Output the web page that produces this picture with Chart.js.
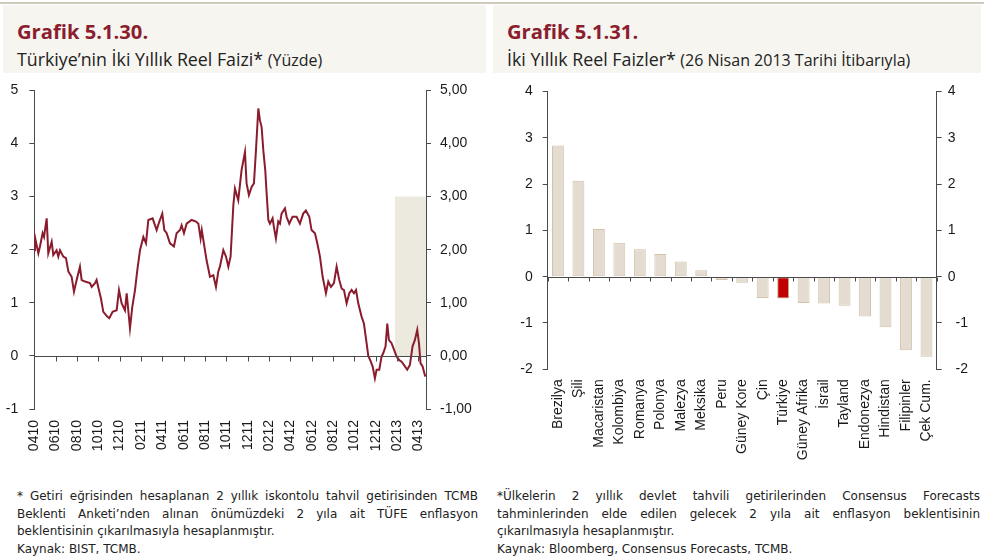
<!DOCTYPE html>
<html lang="tr">
<head>
<meta charset="utf-8">
<title>Grafik 5.1.30 - 5.1.31</title>
<script src="https://cdn.jsdelivr.net/npm/chart.js@4.4.1/dist/chart.umd.min.js"></script>
<style>
    body { margin: 0; width: 984px; height: 559px; background: #fff; position: relative; overflow: hidden; font-family: 'Open Sans', sans-serif; color: #222; }
    .rule { position: absolute; left: 0; top: 2px; width: 984px; height: 2px; background: #cfcabd; }
    .head { position: absolute; top: 5px; height: 68px; background: #f6f5f0; }
    .head h2 { margin: 0; position: absolute; left: 14px; top: 16px; font: bold 20.2px/21px 'Open Sans', sans-serif; color: #8c1d2e; }
    .head p { margin: 0; position: absolute; left: 14px; top: 45px; font-size: 17.8px; line-height: 18px; white-space: nowrap; }
    .head p small { font-size: 16px; }
    .box { position: absolute; }
    .note { position: absolute; font: 12px 'DejaVu Sans', sans-serif; line-height: 17.5px; color: #222; }
    .note div { white-space: nowrap; }
    .note .j { text-align: justify; text-align-last: justify; white-space: normal; }
</style>
</head>
<body>
<div class="rule"></div>

<div class="head" style="left:3px;width:483px">
    <h2>Grafik 5.1.30.</h2>
    <p>Türkiye’nin İki Yıllık Reel Faizi* <small>(Yüzde)</small></p>
</div>
<div class="head" style="left:493px;width:488px">
    <h2>Grafik 5.1.31.</h2>
    <p>İki Yıllık Reel Faizler* <small>(26 Nisan 2013 Tarihi İtibarıyla)</small></p>
</div>

<div class="box" style="left:0;top:71px"><canvas id="real-chart" width="490" height="389"></canvas></div>
<div class="box" style="left:495px;top:73px"><canvas id="country-chart" width="489" height="397"></canvas></div>

<div class="note" style="left:17px;top:488px;width:461px">
    <div class="j">* Getiri eğrisinden hesaplanan 2 yıllık iskontolu tahvil getirisinden TCMB</div>
    <div class="j">Beklenti Anketi’nden alınan önümüzdeki 2 yıla ait TÜFE enflasyon</div>
    <div>beklentisinin çıkarılmasıyla hesaplanmıştır.</div>
    <div>Kaynak: BIST, TCMB.</div>
</div>
<div class="note" style="left:497px;top:488px;width:483px">
    <div class="j">*Ülkelerin 2 yıllık devlet tahvili getirilerinden Consensus Forecasts</div>
    <div class="j">tahminlerinden elde edilen gelecek 2 yıla ait enflasyon beklentisinin</div>
    <div>çıkarılmasıyla hesaplanmıştır.</div>
    <div>Kaynak: Bloomberg, Consensus Forecasts, TCMB.</div>
</div>

<script>
// === DATOS: GRÁFICO 5.1.30 ===
const tickLabels = ['0410', '0610', '0810', '1010', '1210', '0211', '0411', '0611', '0811', '1011',
    '1211', '0212', '0412', '0612', '0812', '1012', '1212', '0213', '0413'];

// meses desde el 1 de abril de 2010
const months = [0, 0.06, 0.38, 0.53, 0.78, 0.91, 1.16, 1.31, 1.63, 1.78, 2.09, 2.25, 2.41, 2.72, 2.97,
    3.19, 3.5, 3.72, 3.97, 4.28, 4.44, 4.75, 5.22, 5.38, 5.69, 5.84, 6.06, 6.25, 6.47, 6.84, 7.03,
    7.34, 7.72, 7.94, 8.19, 8.5, 8.66, 8.97, 9.19, 9.44, 9.66, 9.91, 10.22, 10.47, 10.69, 11.09,
    11.47, 11.72, 12.0, 12.19, 12.41, 12.72, 13.09, 13.34, 13.66, 13.81, 14.03, 14.28, 14.75, 15.16,
    15.38, 15.59, 15.7, 16.15, 16.47, 16.78, 17.03, 17.25, 17.4, 17.72, 17.97, 18.19, 18.4, 18.66,
    18.81, 19.12, 19.43, 19.75, 19.9, 20.12, 20.37, 20.59, 20.78, 21.0, 21.15, 21.31, 21.47, 21.65,
    21.78, 21.94, 22.09, 22.34, 22.46, 22.65, 22.87, 23.03, 23.18, 23.5, 23.65, 23.9, 24.21, 24.59,
    24.9, 25.21, 25.46, 25.78, 25.99, 26.31, 26.53, 26.78, 27.03, 27.34, 27.56, 27.81, 28.09, 28.34,
    28.59, 28.81, 29.03, 29.28, 29.53, 29.75, 29.97, 30.16, 30.37, 30.68, 30.9, 31.15, 31.31, 31.53,
    31.72, 31.93, 32.09, 32.34, 32.56, 32.71, 32.93, 33.09, 33.24, 33.49, 33.74, 33.96, 34.21, 34.43,
    34.65, 34.96, 35.21, 35.46, 35.68, 35.9, 36.06, 36.21, 36.4, 36.65];

const realRate = [1.99, 2.24, 1.93, 2.06, 2.31, 2.24, 2.59, 1.93, 2.15, 1.90, 1.99, 1.87, 1.99, 1.87, 1.84,
    1.59, 1.49, 1.21, 1.43, 1.68, 1.43, 1.40, 1.37, 1.30, 1.37, 1.43, 1.24, 1.08, 0.83, 0.74, 0.71,
    0.83, 0.86, 1.24, 0.99, 0.86, 1.18, 0.52, 0.93, 1.24, 1.62, 1.99, 2.24, 2.12, 2.56, 2.59,
    2.37, 2.53, 2.68, 2.37, 2.31, 2.12, 2.06, 2.31, 2.37, 2.46, 2.31, 2.49, 2.56, 2.53,
    2.49, 2.21, 2.37, 1.80, 1.49, 1.52, 1.30, 1.59, 1.68, 1.99, 1.87, 1.68, 1.87, 2.84,
    3.15, 2.93, 3.50, 3.84, 3.25, 3.03, 3.18, 3.25, 3.87, 4.66, 4.44, 4.31, 3.87, 3.50,
    3.06, 2.56, 2.49, 2.59, 2.43, 2.21, 2.53, 2.49, 2.68, 2.78, 2.62, 2.49, 2.62, 2.62,
    2.49, 2.68, 2.74, 2.62, 2.37, 2.31, 2.12, 1.87, 1.49, 1.18, 1.40, 1.30, 1.37, 1.68,
    1.43, 1.27, 1.24, 0.99, 1.18, 1.24, 1.18, 1.24, 0.99, 0.74, 0.61, 0.24, 0.00, -0.10,
    -0.20, -0.42, -0.26, -0.26, -0.01, 0.05, 0.18, 0.61, 0.30, 0.24, 0.11, -0.01, -0.08, -0.11,
    -0.17, -0.26, -0.17, 0.18, 0.30, 0.49, 0.24, -0.14, -0.20, -0.39];

// banda sombreada (eje derecho)
const bandMonths = [33.8, 36.72];
const bandTop = [3, 3];

// === DATOS: GRÁFICO 5.1.31 ===
const countries = ['Brezilya', 'Şili', 'Macaristan', 'Kolombiya', 'Romanya', 'Polonya', 'Malezya',
    'Meksika', 'Peru', 'Güney Kore', 'Çin', 'Türkiye', 'Güney Afrika', 'İsrail', 'Tayland',
    'Endonezya', 'Hindistan', 'Filipinler', 'Çek Cum.'];
const countryRates = [2.83, 2.07, 1.03, 0.73, 0.59, 0.49, 0.33, 0.14, -0.07, -0.13, -0.46, -0.47,
    -0.57, -0.58, -0.63, -0.86, -1.09, -1.59, -1.73];
const highlight = 'Türkiye';

Chart.defaults.font.family = "'Liberation Sans', Arial, sans-serif";
Chart.defaults.font.size = 14;
Chart.defaults.color = '#1a1a1a';

const axisColor = '#4a4a4a';

// línea del cero con marcas hacia abajo
function zeroAxis(marks, len) {
    return {
        id: 'zeroAxis',
        afterDatasetsDraw(chart) {
            const { ctx, chartArea, scales } = chart;
            const y0 = Math.round(scales.y.getPixelForValue(0)) + 0.5;
            ctx.save();
            ctx.strokeStyle = axisColor;
            ctx.lineWidth = 1;
            ctx.beginPath();
            ctx.moveTo(chartArea.left, y0);
            ctx.lineTo(chartArea.right, y0);
            marks(chart).forEach(x => {
                const px = Math.round(x) + 0.5;
                ctx.moveTo(px, y0);
                ctx.lineTo(px, y0 + len);
            });
            ctx.stroke();
            ctx.restore();
        }
    };
}

const sideGrid = { display: true, drawOnChartArea: false, drawTicks: true, tickLength: 5, color: axisColor };
const sideBorder = { display: true, color: axisColor };

// === GRÁFICO 5.1.30 ===
new Chart(document.getElementById('real-chart'), {
    type: 'line',
    data: {
        datasets: [{
            label: 'Bant',
            data: bandMonths.map((m, i) => ({ x: m, y: bandTop[i] })),
            yAxisID: 'y2',
            fill: 'origin',
            backgroundColor: '#ece9df',
            borderWidth: 0,
            pointRadius: 0,
            order: 2
        }, {
            label: 'Reel faiz',
            data: months.map((m, i) => ({ x: m, y: realRate[i] })),
            yAxisID: 'y',
            borderColor: '#8a1c2d',
            borderWidth: 2,
            pointRadius: 0,
            tension: 0,
            fill: false,
            order: 1
        }]
    },
    options: {
        responsive: false,
        animation: false,
        layout: { padding: 0 },
        scales: {
            x: {
                type: 'linear',
                min: 0,
                max: bandMonths[1],
                afterBuildTicks: (scale) => { scale.ticks = tickLabels.map((_, i) => ({ value: i * 2 })); },
                afterFit: (scale) => { scale.height = 51; },
                grid: { display: false, drawTicks: false },
                border: { display: false },
                ticks: {
                    autoSkip: false,
                    minRotation: 90,
                    maxRotation: 90,
                    padding: 11,
                    callback: (v) => tickLabels[v / 2]
                }
            },
            y: {
                position: 'left',
                min: -1,
                max: 5,
                afterFit: (scale) => { scale.width = 34.3; },
                grid: sideGrid,
                border: sideBorder,
                ticks: { stepSize: 1, padding: 11 }
            },
            y2: {
                position: 'right',
                min: -1,
                max: 5,
                afterFit: (scale) => { scale.width = 64; },
                grid: sideGrid,
                border: sideBorder,
                ticks: {
                    stepSize: 1,
                    padding: 9,
                    callback: (v) => v.toFixed(2).replace('.', ',')
                }
            }
        },
        plugins: {
            legend: { display: false },
            tooltip: { enabled: false }
        }
    },
    plugins: [zeroAxis(chart => chart.scales.x.ticks.map(t => chart.scales.x.getPixelForValue(t.value)), 5)]
});

// === GRÁFICO 5.1.31 ===
new Chart(document.getElementById('country-chart'), {
    type: 'bar',
    data: {
        labels: countries,
        datasets: [{
            label: 'Reel faiz',
            data: countryRates,
            backgroundColor: countries.map(c => c === highlight ? '#c00000' : '#e4dcd0'),
            borderColor: countries.map(c => c === highlight ? '#c9a99a' : '#d2c2aa'),
            borderWidth: 1,
            borderSkipped: false,
            categoryPercentage: 1,
            barPercentage: 0.58
        }]
    },
    options: {
        responsive: false,
        animation: false,
        layout: { padding: 0 },
        scales: {
            x: {
                afterFit: (scale) => { scale.height = 100.7; },
                grid: { display: false, drawTicks: false },
                border: { display: false },
                ticks: { autoSkip: false, minRotation: 90, maxRotation: 90, padding: 10 }
            },
            y: {
                position: 'left',
                min: -2,
                max: 4,
                afterFit: (scale) => { scale.width = 52.7; },
                grid: sideGrid,
                border: sideBorder,
                ticks: { stepSize: 1, padding: 10 }
            },
            y2: {
                position: 'right',
                min: -2,
                max: 4,
                afterFit: (scale) => { scale.width = 47.3; },
                grid: sideGrid,
                border: sideBorder,
                ticks: { stepSize: 1, padding: 6, callback: (v) => (v < 0 ? '  ' + v : '' + v) }
            }
        },
        plugins: {
            legend: { display: false },
            tooltip: { enabled: false }
        }
    },
    plugins: [zeroAxis(chart => countries.map((_, i) => chart.scales.x.getPixelForValue(i - 0.5))
        .concat([chart.scales.x.getPixelForValue(countries.length - 0.5)]), 4)]
});
</script>
</body>
</html>
